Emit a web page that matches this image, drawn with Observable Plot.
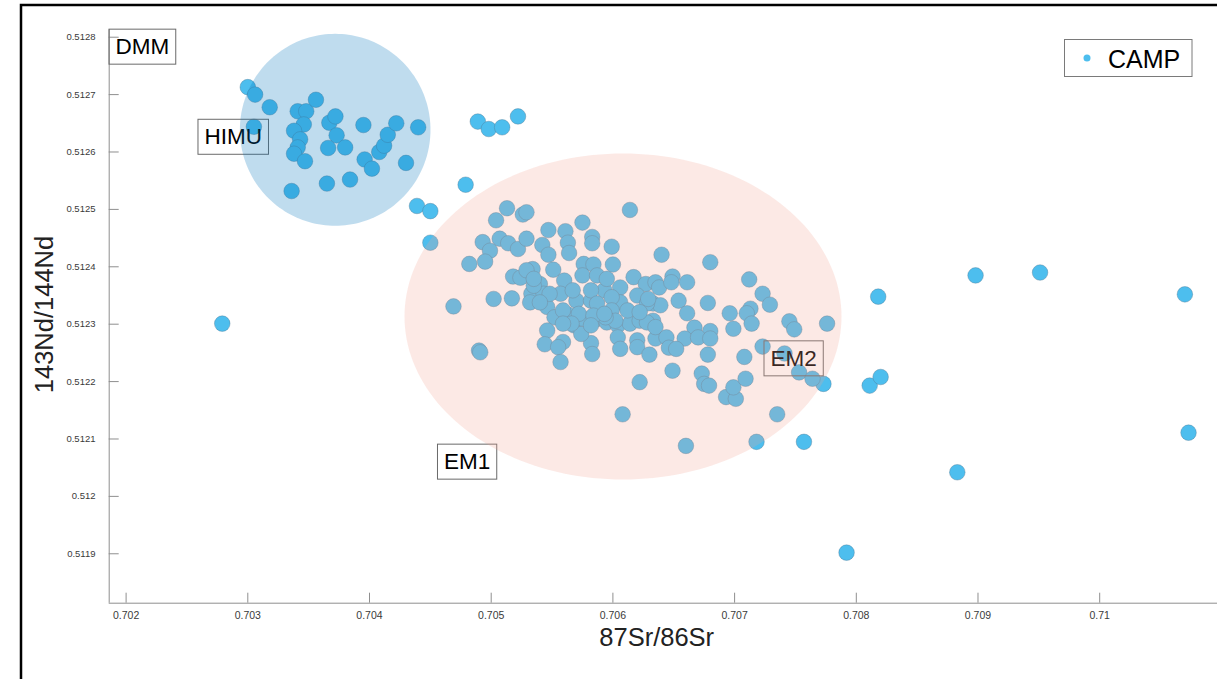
<!DOCTYPE html>
<html>
<head>
<meta charset="utf-8">
<script src="https://cdn.jsdelivr.net/npm/d3@7"></script>
<script src="https://cdn.jsdelivr.net/npm/@observablehq/plot@0.6"></script>
<style>
  html, body { margin: 0; padding: 0; background: #fff; }
  #chart { position: relative; width: 1217px; height: 679px; overflow: hidden; }
  #chart svg { display: block; }
</style>
</head>
<body>
<div id="chart"></div>
<script>
// CAMP samples: 87Sr/86Sr and 143Nd/144Nd
const sr = [
  0.70300, 0.70306, 0.70318, 0.70305, 0.70341, 0.70348, 0.70356, 0.70346, 0.70338, 0.70343,
  0.70341, 0.70338, 0.70347, 0.70336, 0.70367, 0.70372, 0.70373, 0.70366, 0.70380, 0.70395,
  0.70396, 0.70402, 0.70384, 0.70365, 0.70408, 0.70412, 0.70415, 0.70422, 0.70430, 0.70440,
  0.70489, 0.70498, 0.70509, 0.70522, 0.70479, 0.70439, 0.70450, 0.70450, 0.70279, 0.70898,
  0.70951, 0.71070, 0.70818, 0.70811, 0.70820, 0.70757, 0.70883, 0.70792, 0.71073, 0.70773,
  0.70513, 0.70504, 0.70526, 0.70529, 0.70493, 0.70499, 0.70507, 0.70514, 0.70522, 0.70529,
  0.70482, 0.70495, 0.70469, 0.70502, 0.70517, 0.70490, 0.70491, 0.70518, 0.70524, 0.70534,
  0.70547, 0.70561, 0.70563, 0.70564, 0.70542, 0.70547, 0.70575, 0.70583, 0.70583, 0.70599,
  0.70614, 0.70576, 0.70584, 0.70600, 0.70551, 0.70560, 0.70575, 0.70540, 0.70533, 0.70543,
  0.70557, 0.70570, 0.70582, 0.70593, 0.70606, 0.70617, 0.70627, 0.70606, 0.70620, 0.70546,
  0.70552, 0.70563, 0.70568, 0.70576, 0.70587, 0.70595, 0.70604, 0.70614, 0.70622, 0.70633,
  0.70633, 0.70546, 0.70559, 0.70544, 0.70555, 0.70582, 0.70583, 0.70574, 0.70604, 0.70606,
  0.70620, 0.70620, 0.70630, 0.70557, 0.70635, 0.70548, 0.70567, 0.70582, 0.70559, 0.70572,
  0.70587, 0.70595, 0.70599, 0.70587, 0.70599, 0.70535, 0.70640, 0.70680, 0.70635, 0.70638,
  0.70649, 0.70648, 0.70661, 0.70654, 0.70661, 0.70678, 0.70696, 0.70699, 0.70667, 0.70680,
  0.70639, 0.70628, 0.70628, 0.70635, 0.70602, 0.70594, 0.70644, 0.70659, 0.70670, 0.70680,
  0.70712, 0.70723, 0.70729, 0.70713, 0.70710, 0.70714, 0.70646, 0.70652, 0.70622, 0.70649,
  0.70678, 0.70673, 0.70675, 0.70679, 0.70693, 0.70701, 0.70699, 0.70708, 0.70709, 0.70723,
  0.70741, 0.70745, 0.70749, 0.70776, 0.70753, 0.70764, 0.70735, 0.70660, 0.70718, 0.70532,
  0.70608, 0.70529, 0.70535, 0.70584, 0.70566, 0.70559, 0.70582, 0.70540, 0.70629, 0.70593,
  0.70612, 0.70622
];
const nd = [
  0.512713, 0.512700, 0.512678, 0.512644, 0.512671, 0.512671, 0.512691, 0.512648, 0.512637, 0.512622,
  0.512608, 0.512597, 0.512584, 0.512532, 0.512651, 0.512662, 0.512629, 0.512607, 0.512608, 0.512647,
  0.512587, 0.512571, 0.512552, 0.512545, 0.512600, 0.512611, 0.512630, 0.512650, 0.512581, 0.512643,
  0.512653, 0.512640, 0.512643, 0.512662, 0.512543, 0.512506, 0.512497, 0.512442, 0.512301, 0.512385,
  0.512390, 0.512352, 0.512348, 0.512193, 0.512208, 0.512095, 0.512042, 0.511902, 0.512111, 0.512196,
  0.512502, 0.512481, 0.512491, 0.512495, 0.512443, 0.512428, 0.512449, 0.512441, 0.512431, 0.512449,
  0.512405, 0.512409, 0.512331, 0.512344, 0.512345, 0.512254, 0.512251, 0.512383, 0.512381, 0.512396,
  0.512464, 0.512462, 0.512442, 0.512424, 0.512438, 0.512421, 0.512477, 0.512452, 0.512441, 0.512435,
  0.512499, 0.512405, 0.512404, 0.512404, 0.512395, 0.512376, 0.512385, 0.512370, 0.512353, 0.512353,
  0.512353, 0.512341, 0.512341, 0.512359, 0.512364, 0.512382, 0.512370, 0.512338, 0.512350, 0.512330,
  0.512312, 0.512317, 0.512298, 0.512309, 0.512309, 0.512303, 0.512298, 0.512301, 0.512306, 0.512336,
  0.512306, 0.512289, 0.512269, 0.512265, 0.512260, 0.512267, 0.512248, 0.512283, 0.512277, 0.512257,
  0.512272, 0.512260, 0.512247, 0.512234, 0.512275, 0.512353, 0.512359, 0.512359, 0.512324, 0.512318,
  0.512385, 0.512379, 0.512347, 0.512336, 0.512324, 0.512367, 0.512421, 0.512408, 0.512373, 0.512364,
  0.512383, 0.512373, 0.512373, 0.512341, 0.512319, 0.512337, 0.512319, 0.512292, 0.512294, 0.512288,
  0.512333, 0.512336, 0.512303, 0.512295, 0.512306, 0.512312, 0.512277, 0.512275, 0.512277, 0.512275,
  0.512378, 0.512353, 0.512334, 0.512327, 0.512319, 0.512301, 0.512259, 0.512257, 0.512199, 0.512219,
  0.512247, 0.512214, 0.512196, 0.512193, 0.512173, 0.512170, 0.512190, 0.512243, 0.512205, 0.512261,
  0.512249, 0.512305, 0.512291, 0.512301, 0.512216, 0.512205, 0.512143, 0.512088, 0.512095, 0.512338,
  0.512143, 0.512394, 0.512379, 0.512315, 0.512301, 0.512301, 0.512298, 0.512338, 0.512344, 0.512318,
  0.512324, 0.512321
];

// Axis ticks
const xTicks = [0.702, 0.703, 0.704, 0.705, 0.706, 0.707, 0.708, 0.709, 0.710];
const yTicks = [0.5119, 0.5120, 0.5121, 0.5122, 0.5123, 0.5124, 0.5125, 0.5126, 0.5127, 0.5128];

// Mantle end-member labels (text anchor, left-middle)
const endMembers = ["DMM", "HIMU", "EM1", "EM2"];
const endMemberSr = [0.701913, 0.702644, 0.704612, 0.707295];
const endMemberNd = [0.512783, 0.512626, 0.512060, 0.512240];

// Reservoir fields: centre and semi-axes
const fieldSr = [0.703718, 0.706083];
const fieldNd = [0.5126387, 0.5123134];
const fieldSrRadius = [0.000783, 0.0017954];
const fieldNdRadius = [0.0001672, 0.000284];
const fieldFill = ["rgb(0,114,189)", "rgb(242,163,147)"];
const fieldOpacity = [0.25, 0.24];

const seriesName = "CAMP";
const xTitle = "87Sr/86Sr";
const yTitle = "143Nd/144Nd";

// Plot geometry
const W = 1217, H = 679;
const mL = 108.7, mR = 0, mT = 29.3, mB = 76.3;
const xDomain = [0.7018611, 0.710968];
const yDomain = [0.5118139, 0.5128129];
const tickLenX = (xDomain[1] - xDomain[0]) * 10 / (W - mL - mR);
const tickLenY = (yDomain[1] - yDomain[0]) * 10 / (H - mT - mB);

const fmt = d => String(+d.toFixed(4));
const axisGray = "#8f8f8f";
const font = "'Liberation Sans', Arial, Helvetica, sans-serif";

function outline(i) {
  return d3.range(0, 361, 2).map(a => {
    const t = a * Math.PI / 180;
    return {x: fieldSr[i] + fieldSrRadius[i] * Math.cos(t), y: fieldNd[i] + fieldNdRadius[i] * Math.sin(t)};
  });
}

const idx = d3.range(sr.length);

const chart = Plot.plot({
  width: W, height: H,
  marginLeft: mL, marginRight: mR, marginTop: mT, marginBottom: mB,
  style: {fontFamily: font, background: "white", overflow: "visible"},
  x: {domain: xDomain},
  y: {domain: yDomain},
  marks: [
    Plot.axisX({ticks: xTicks, tickSize: 0, tickPadding: 8, tickFormat: fmt, fontSize: 10.5, color: "#3a3a3a", label: null}),
    Plot.axisY({ticks: yTicks, tickSize: 0, tickPadding: 13.7, tickFormat: fmt, fontSize: 9.5, color: "#3a3a3a", label: null}),
    Plot.ruleX([xDomain[0]], {stroke: axisGray, strokeWidth: 1}),
    Plot.ruleY([yDomain[0]], {stroke: axisGray, strokeWidth: 1}),
    Plot.ruleX(xTicks, {x: d => d, y1: yDomain[0], y2: yDomain[0] + tickLenY, stroke: axisGray}),
    Plot.ruleY(yTicks, {y: d => d, x1: xDomain[0], x2: xDomain[0] + tickLenX, stroke: axisGray}),
    Plot.dot(idx, {
      x: i => sr[i], y: i => nd[i], r: 7.8,
      fill: "#4DBEEE", stroke: "#4f7690", strokeOpacity: 0.55, strokeWidth: 0.7
    }),
    Plot.text(endMembers, {
      x: (d, i) => endMemberSr[i], y: (d, i) => endMemberNd[i], text: d => d,
      textAnchor: "start", lineAnchor: "middle", fontSize: 22.5, fill: "#000"
    }),
    ...[0, 1].map(i => Plot.line(outline(i), {
      x: "x", y: "y", curve: "linear-closed",
      fill: fieldFill[i], fillOpacity: fieldOpacity[i], stroke: "none"
    }))
  ]
});

document.getElementById("chart").append(chart);

const svg = d3.select(chart);

// Boxes around the end-member labels
const SVGNS = "http://www.w3.org/2000/svg";
svg.selectAll("text")
  .filter(function () { return endMembers.includes(this.textContent); })
  .each(function () {
    const b = this.getBBox();
    const padX = 6.5, padY = 5;
    const rect = document.createElementNS(SVGNS, "rect");
    rect.setAttribute("x", b.x - padX);
    rect.setAttribute("y", b.y - padY);
    rect.setAttribute("width", b.width + 2 * padX);
    rect.setAttribute("height", b.height + 2 * padY);
    const t = this.getAttribute("transform");
    if (t) rect.setAttribute("transform", t);
    rect.setAttribute("fill", "none");
    rect.setAttribute("stroke", "#6a6a6a");
    rect.setAttribute("stroke-width", 1);
    this.parentNode.insertBefore(rect, this);
  });

// Axis titles
svg.append("text")
  .attr("x", 656.7).attr("y", 646)
  .attr("text-anchor", "middle")
  .attr("font-size", 25.5).attr("fill", "#222")
  .text(xTitle);
svg.append("text")
  .attr("transform", "translate(53,314.5) rotate(-90)")
  .attr("text-anchor", "middle")
  .attr("font-size", 25.5).attr("fill", "#222")
  .text(yTitle);

// Legend
const lg = svg.append("g");
lg.append("rect").attr("x", 1064.5).attr("y", 39.5).attr("width", 127.5).attr("height", 37)
  .attr("fill", "white").attr("stroke", "#7a7a7a").attr("stroke-width", 1);
lg.append("circle").attr("cx", 1087).attr("cy", 58).attr("r", 3.5).attr("fill", "#4DBEEE");
lg.append("text").attr("x", 1108).attr("y", 67.5).attr("text-anchor", "start")
  .attr("font-size", 25).attr("fill", "#000").text(seriesName);

// Figure frame
svg.append("path").attr("d", `M21,${H}V5H${W}`)
  .attr("fill", "none").attr("stroke", "#000").attr("stroke-width", 2.5);
</script>
</body>
</html>
